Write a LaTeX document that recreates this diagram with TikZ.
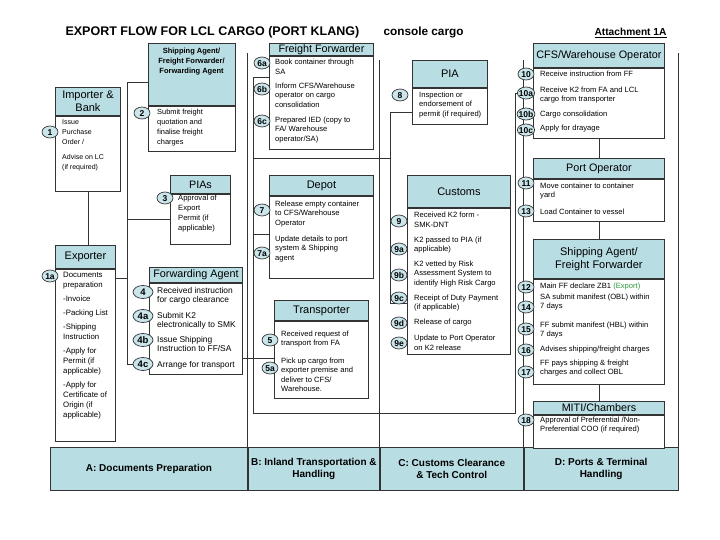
\documentclass[tikz,border=0pt]{standalone}
\usepackage{fontspec}
\setmainfont{Liberation Sans}
\usetikzlibrary{shapes.geometric, positioning, backgrounds}
\definecolor{HeadTeal}  {HTML}{B8DDE3}
\definecolor{BubTeal}   {HTML}{CAE6EA}
\definecolor{LineGrey}  {HTML}{333333}
\definecolor{ExportGreen}{HTML}{2E9A3A}
\tikzset{
  link/.style={draw=LineGrey, line width=0.8pt},
  lane/.style={draw=LineGrey, line width=0.9pt},
}

\begin{document}
\begin{tikzpicture}[x=1pt, y=-1pt,
    hdr/.style={draw=LineGrey, fill=HeadTeal, line width=0.9pt, anchor=north west,
                inner sep=0pt, align=center, font=\fontsize{10.8}{12.5}\selectfont},
    body/.style={draw=LineGrey, fill=white, line width=0.9pt, anchor=north west, inner sep=0pt},
    num/.style={ellipse, draw=LineGrey, fill=BubTeal, line width=0.7pt, inner xsep=-1pt,
                inner ysep=0.8pt, text height=6.2pt, text depth=0pt, minimum width=16pt,
                minimum height=12pt, font=\bfseries\fontsize{8.5}{8.5}\selectfont},
    numL/.style={num, minimum width=20pt, minimum height=13pt, font=\bfseries\fontsize{9.5}{9.5}\selectfont},
    txt/.style={anchor=west, align=left, inner sep=0pt, font=\fontsize{7.6}{9.5}\selectfont},
    band/.style={draw=LineGrey, fill=HeadTeal, line width=0.9pt, anchor=north west, inner sep=0pt,
                 align=center, minimum height=43pt, font=\bfseries\fontsize{10}{12}\selectfont}]
  \useasboundingbox (0,0) rectangle (720,540);
  % Title
  \node[anchor=west, font=\bfseries\fontsize{12.5}{14}\selectfont] (title) at (62,32) {EXPORT FLOW FOR LCL CARGO (PORT KLANG)};
  \node[anchor=west, font=\bfseries\fontsize{11.8}{13}\selectfont] (sub) at (380,32) {console cargo};
  \node[anchor=west, font=\bfseries\fontsize{10.2}{11}\selectfont] (att) at (591,33) {\underline{Attachment 1A}};
  % Bottom band
  \node[band, minimum width=197pt] (bandA) at (50,447) {A: Documents Preparation};
  \node[band, minimum width=131pt] (bandB) at (bandA.north east) {B: Inland Transportation \&\\Handling};
  \node[band, minimum width=143pt] (bandC) at (bandB.north east) {C: Customs Clearance\\\& Tech Control};
  \node[band, minimum width=154pt] (bandD) at (bandC.north east) {D: Ports \& Terminal\\Handling};
  % A: Documents Preparation
  \node[hdr, minimum width=65pt, minimum height=28pt, font=\fontsize{11}{13}\selectfont] (impH) at (55,87) {Importer \&\\Bank};
  \node[body, minimum width=65pt, minimum height=75pt] (impB) at (impH.south west) {};
  \node[txt, anchor=north west, font=\fontsize{7}{10}\selectfont] (t1) at (62,119) {Issue\\Purchase\\Order /\\[5pt]Advise on LC\\(if required)};
  \node[hdr, minimum width=87pt, minimum height=62pt] (saH) at (148,43) {};
  \node[anchor=north, align=center, inner sep=0pt, font=\bfseries\fontsize{7.5}{10}\selectfont] (saT) at (191.5,48) {Shipping Agent/\\Freight Forwarder/\\Forwarding Agent};
  \node[body, minimum width=87pt, minimum height=45pt] (saB) at (saH.south west) {};
  \node[txt, anchor=north west, font=\fontsize{7.4}{10}\selectfont] (t2) at (157,109) {Submit freight\\quotation and\\finalise freight\\charges};
  \node[hdr, minimum width=60pt, minimum height=18pt] (piasH) at (170,175) {PIAs};
  \node[body, minimum width=60pt, minimum height=50pt] (piasB) at (piasH.south west) {};
  \node[txt, anchor=north west, font=\fontsize{7.6}{10}\selectfont] (t3) at (178,195) {Approval of\\Export\\Permit (if\\applicable)};
  \node[hdr, minimum width=60pt, minimum height=23pt, font=\fontsize{11}{13}\selectfont] (expH) at (55,245) {Exporter};
  \node[body, minimum width=60pt, minimum height=172pt] (expB) at (expH.south west) {};
  \node[txt, anchor=north west, font=\fontsize{7.8}{10}\selectfont] (t1a) at (63,272) {Documents\\preparation\\[4pt]-Invoice\\[4pt]-Packing List\\[4pt]-Shipping\\Instruction\\[4pt]-Apply for\\Permit (if\\applicable)\\[4pt]-Apply for\\Certificate of\\Origin (if\\applicable)};
  \node[hdr, minimum width=93pt, minimum height=15pt] (faH) at (149,267) {Forwarding Agent};
  \node[body, minimum width=93pt, minimum height=91pt] (faB) at (faH.south west) {};
  \node[txt, font=\fontsize{8.4}{9.5}\selectfont] (t4)  at (157,296) {Received instruction\\for cargo clearance};
  \node[txt, font=\fontsize{8.4}{9.5}\selectfont] (t4a) at (157,321) {Submit K2\\electronically to SMK};
  \node[txt, font=\fontsize{8.4}{9.5}\selectfont] (t4b) at (157,344) {Issue Shipping\\Instruction to FF/SA};
  \node[txt, font=\fontsize{8.4}{9.5}\selectfont] (t4c) at (157,365) {Arrange for transport};
  % B: Inland Transportation & Handling
  \node[hdr, minimum width=104pt, minimum height=12pt] (ffH) at (269,43) {Freight Forwarder};
  \node[body, minimum width=104pt, minimum height=93pt] (ffB) at (ffH.south west) {};
  \node[txt] (t6a) at (275,67)  {Book container through\\SA};
  \node[txt] (t6b) at (275,95)  {Inform CFS/Warehouse\\operator on cargo\\consolidation};
  \node[txt] (t6c) at (275,130) {Prepared IED  (copy to\\FA/ Warehouse\\operator/SA)};
  \node[hdr, minimum width=104pt, minimum height=20pt, font=\fontsize{11}{13}\selectfont] (depH) at (269,175) {Depot};
  \node[body, minimum width=104pt, minimum height=82pt] (depB) at (depH.south west) {};
  \node[txt] (t7)  at (275,214) {Release empty container\\to CFS/Warehouse\\Operator};
  \node[txt] (t7a) at (275,249) {Update details to port\\system  \& Shipping\\agent};
  \node[hdr, minimum width=94pt, minimum height=20pt, font=\fontsize{11}{13}\selectfont] (trH) at (274,300) {Transporter};
  \node[body, minimum width=94pt, minimum height=77pt] (trB) at (trH.south west) {};
  \node[txt] (t5)  at (281,339) {Received request of\\transport from FA};
  \node[txt] (t5a) at (281,375) {Pick up cargo from\\exporter premise and\\deliver  to CFS/\\Warehouse.};
  % C: Customs Clearance & Tech Control
  \node[hdr, minimum width=75pt, minimum height=27pt, font=\fontsize{11}{13}\selectfont] (piaH) at (412,60) {PIA};
  \node[body, minimum width=75pt, minimum height=36pt] (piaB) at (piaH.south west) {};
  \node[txt] (t8) at (419,105) {Inspection or\\endorsement of\\permit  (if required)};
  \node[hdr, minimum width=103pt, minimum height=32pt, font=\fontsize{11}{13}\selectfont] (cusH) at (407,175) {Customs};
  \node[body, minimum width=103pt, minimum height=146pt] (cusB) at (cusH.south west) {};
  \node[txt] (t9)  at (414,220) {Received K2 form -\\SMK-DNT};
  \node[txt] (t9a) at (414,245) {K2 passed to PIA (if\\applicable)};
  \node[txt] (t9b) at (414,274) {K2 vetted by Risk\\Assessment System to\\identify High Risk Cargo};
  \node[txt] (t9c) at (414,303) {Receipt of Duty Payment\\(if applicable)};
  \node[txt] (t9d) at (414,323) {Release of cargo};
  \node[txt] (t9e) at (414,343) {Update to Port Operator\\on K2 release};
  % D: Ports & Terminal Handling
  \node[hdr, minimum width=131pt, minimum height=24pt] (cfsH) at (533,43) {CFS/Warehouse Operator};
  \node[body, minimum width=131pt, minimum height=70pt] (cfsB) at (cfsH.south west) {};
  \node[txt] (t10)  at (540,74)  {Receive instruction from FF};
  \node[txt] (t10a) at (540,95)  {Receive K2 from FA and  LCL\\cargo from transporter};
  \node[txt] (t10b) at (540,115) {Cargo consolidation};
  \node[txt] (t10c) at (540,129) {Apply for drayage};
  \node[hdr, minimum width=131pt, minimum height=20pt] (poH) at (533,158) {Port Operator};
  \node[body, minimum width=131pt, minimum height=42pt] (poB) at (poH.south west) {};
  \node[txt] (t11) at (540,191) {Move container to container\\yard};
  \node[txt] (t13) at (540,212) {Load Container to vessel};
  \node[hdr, minimum width=131pt, minimum height=39pt, font=\fontsize{11}{13}\selectfont] (sa2H) at (533,239) {Shipping Agent/\\Freight Forwarder};
  \node[body, minimum width=131pt, minimum height=105pt] (sa2B) at (sa2H.south west) {};
  \node[txt] (t12) at (540,287) {Main FF declare ZB1 \textcolor{ExportGreen}{(Export)}};
  \node[txt] (t14) at (540,302) {SA submit manifest (OBL) within\\7 days};
  \node[txt] (t15) at (540,330) {FF submit manifest (HBL) within\\7 days};
  \node[txt] (t16) at (540,350) {Advises shipping/freight charges};
  \node[txt] (t17) at (540,368) {FF pays shipping \& freight\\charges and collect OBL};
  \node[hdr, minimum width=131pt, minimum height=13pt] (mitiH) at (533,401) {MITI/Chambers};
  \node[body, minimum width=131pt, minimum height=33pt] (mitiB) at (mitiH.south west) {};
  \node[txt] (t18) at (540,425) {Approval of Preferential /Non-\\Preferential COO (if required)};
  % Step numbers
  \node[num]  (n1)   at (50,132)  {1};
  \node[num]  (n1a)  at (50,276)  {1a};
  \node[num]  (n2)   at (142,113) {2};
  \node[num]  (n3)   at (165,198) {3};
  \node[numL] (n4)   at (143,292) {4};
  \node[numL] (n4a)  at (143,316) {4a};
  \node[numL] (n4b)  at (143,340) {4b};
  \node[numL] (n4c)  at (143,364) {4c};
  \node[num]  (n6a)  at (262,63)  {6a};
  \node[num]  (n6b)  at (262,89)  {6b};
  \node[num]  (n6c)  at (262,121) {6c};
  \node[num]  (n7)   at (262,210) {7};
  \node[num]  (n7a)  at (262,253) {7a};
  \node[num]  (n5)   at (270,340) {5};
  \node[num]  (n5a)  at (270,368) {5a};
  \node[num]  (n8)   at (400,95)  {8};
  \node[num]  (n9)   at (399,221) {9};
  \node[num]  (n9a)  at (399,249) {9a};
  \node[num]  (n9b)  at (399,275) {9b};
  \node[num]  (n9c)  at (399,298) {9c};
  \node[num]  (n9d)  at (399,323) {9d};
  \node[num]  (n9e)  at (399,343) {9e};
  \node[num]  (n10)  at (526,74)  {10};
  \node[num]  (n10a) at (526,93)  {10a};
  \node[num]  (n10b) at (526,114) {10b};
  \node[num]  (n10c) at (526,130) {10c};
  \node[num]  (n11)  at (526,183) {11};
  \node[num]  (n13)  at (526,211) {13};
  \node[num]  (n12)  at (526,287) {12};
  \node[num]  (n14)  at (526,307) {14};
  \node[num]  (n15)  at (526,329) {15};
  \node[num]  (n16)  at (526,350) {16};
  \node[num]  (n17)  at (526,372) {17};
  \node[num]  (n18)  at (526,420) {18};
  % Junctions
  \coordinate (ja) at (127,82);
  \coordinate (jb) at (127,364);
  \coordinate (jc) at (127,278);
  \coordinate (jd) at (245,358);
  \coordinate (k1) at (253,77);
  \coordinate (k2) at (253,413);
  \coordinate (k3) at (515,413);
  \coordinate (k4) at (515,93);
  \coordinate (k5) at (253,158);
  \coordinate (k6) at (253,234);
  \coordinate (m1) at (390,112);
  \coordinate (m2) at (390,303);
  \begin{scope}[on background layer]
    % lanes
    \draw[lane] (bandB.north west) -- ++(0,-394);
    \draw[lane] (bandC.north west) -- ++(0,-387);
    \draw[lane] (bandD.north west) -- ++(0,-387);
    \draw[lane] (bandD.north east) -- ++(0,-394);
    % connectors
    \draw[link] (impB.south) -- (impB.south |- expH.north);
    \draw[link] (saH.west |- ja) -- (ja) -- (jb) -- (n4c.west);
    \draw[link] (piasB.west) -- (piasB.west -| ja);
    \draw[link] (jc) -- (jc -| expB.east);
    \draw[link] (jd -| faB.east) -- (jd -| trB.west);
    \draw[link] (k1 -| ffB.west) -- (k1) -- (k2) -- (k3) -- (k4) -- (n10a.west);
    \draw[link] (k5) -- (k5 -| m1);
    \draw[link] (k6) -- (k6 -| depB.west);
    \draw[link] (m1 -| piaB.west) -- (m1) -- (m2) -- (m2 -| cusB.west);
    \draw[link] (cfsB.south) -- (poH.north);
    \draw[link] (poB.south) -- (sa2H.north);
    \draw[link] (sa2B.south) -- (mitiH.north);
  \end{scope}
\end{tikzpicture}
\end{document}
